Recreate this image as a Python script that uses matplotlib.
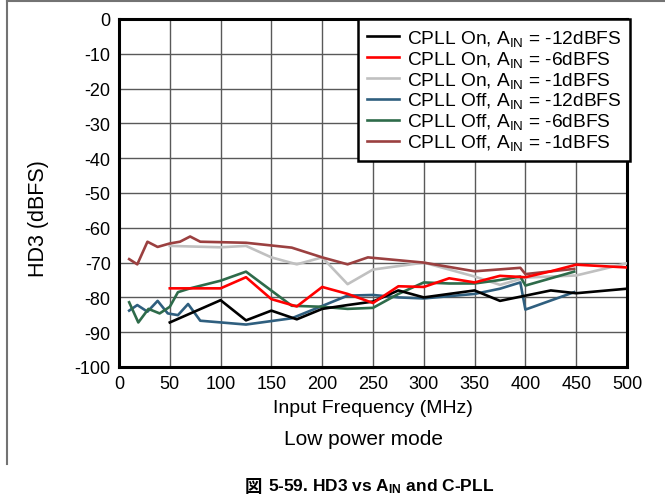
import matplotlib
matplotlib.use("Agg")
import matplotlib.pyplot as plt
from matplotlib.lines import Line2D

plt.rcParams['font.family'] = ['Liberation Sans', 'Noto Sans CJK JP', 'DejaVu Sans']
plt.rcParams['mathtext.fontset'] = 'custom'
plt.rcParams['mathtext.rm'] = 'Liberation Sans'
plt.rcParams['mathtext.it'] = 'Liberation Sans'
plt.rcParams['mathtext.bf'] = 'Liberation Sans:bold'
plt.rcParams['axes.unicode_minus'] = False

# data
on12_x = [50, 100, 125, 150, 175, 200, 225, 250, 275, 300, 350, 375, 400, 425, 450, 500]
on12_y = [-87.2, -80.8, -86.6, -83.8, -86.3, -83.3, -82.2, -81.2, -78, -80, -78, -81, -79.5, -78, -78.8, -77.5]

on6_x = [50, 75, 100, 125, 150, 175, 200, 225, 250, 275, 300, 325, 350, 375, 400, 425, 450, 500]
on6_y = [-77.4, -77.4, -77.4, -74.2, -80.5, -82.6, -77, -79, -81.6, -76.8, -77, -74.5, -75.7, -73.8, -74.2, -72.5, -70.6, -71.4]

on1_x = [50, 100, 125, 150, 175, 200, 225, 250, 300, 350, 375, 400, 450, 500]
on1_y = [-65.2, -65.6, -65.2, -68.5, -70.5, -68.5, -76.2, -72, -70, -74, -76.4, -74.3, -73.7, -70.2]

off12_x = [10, 18, 28, 38, 48, 58, 68, 80, 125, 170, 225, 250, 275, 300, 350, 375, 395, 400, 448]
off12_y = [-83.8, -82.2, -84.1, -81, -84.6, -85.1, -81.9, -86.7, -87.8, -86, -79.5, -79.3, -80, -80.3, -79, -77.5, -75.7, -83.5, -78.5]

off6_x = [10, 19, 29, 40, 50, 58, 70, 100, 125, 170, 200, 225, 250, 275, 300, 325, 350, 375, 395, 400, 448]
off6_y = [-81.4, -87.2, -83.3, -84.6, -82.7, -78.5, -77.4, -75.2, -72.6, -82.4, -82.7, -83.3, -83, -79, -75.7, -76, -76, -75, -74, -76.6, -72.6]

off1_x = [10, 18, 28, 38, 50, 60, 70, 80, 125, 170, 200, 225, 245, 300, 350, 395, 400, 448]
off1_y = [-69, -70.5, -64, -65.5, -64.5, -64, -62.5, -64, -64.3, -65.7, -68.5, -70.5, -68.5, -70, -72.5, -71.5, -73.3, -71.8]

labels = [r'CPLL On, A$_{\mathrm{IN}}$ = -12dBFS',
          r'CPLL On, A$_{\mathrm{IN}}$ = -6dBFS',
          r'CPLL On, A$_{\mathrm{IN}}$ = -1dBFS',
          r'CPLL Off, A$_{\mathrm{IN}}$ = -12dBFS',
          r'CPLL Off, A$_{\mathrm{IN}}$ = -6dBFS',
          r'CPLL Off, A$_{\mathrm{IN}}$ = -1dBFS']
colors = ['#000000', '#ff0000', '#c0c0c0', '#2f5f7f', '#2e6b4a', '#9b4040']

series = [(on12_x, on12_y), (on6_x, on6_y), (on1_x, on1_y),
          (off12_x, off12_y), (off6_x, off6_y), (off1_x, off1_y)]

fig = plt.figure(figsize=(6.65, 5.02), dpi=100)
ax = fig.add_axes([119 / 665, 1 - 368 / 502, 508 / 665, 348 / 502])

# draw order: keep red/black on top like the reference
order = [2, 5, 3, 4, 0, 1]
for i in order:
    ax.plot(series[i][0], series[i][1], color=colors[i], lw=1.9, zorder=3 + order.index(i))

ax.set_xlim(0, 500)
ax.set_ylim(-100, 0)
ax.set_xticks(range(0, 501, 50))
ax.set_yticks(range(-100, 1, 10))
ax.grid(True, color='0.35', lw=1)
ax.tick_params(labelsize=13, length=0, pad=6)
for s in ax.spines.values():
    s.set_linewidth(2.2)
ax.set_xlabel('Input Frequency (MHz)', fontsize=14, labelpad=5)
ax.set_ylabel('HD3 (dBFS)', fontsize=15.5)
ax.yaxis.set_label_coords(-0.138, 0.43)

handles = [Line2D([], [], color=c, lw=1.9) for c in colors]
leg = ax.legend(handles, labels, loc='upper right', fontsize=13.8, frameon=True,
                fancybox=False, edgecolor='black', framealpha=1,
                handlelength=1.7, handletextpad=0.4, labelspacing=0.05,
                borderaxespad=0, borderpad=0.45, bbox_to_anchor=(1.006, 1.0))
leg.get_frame().set_linewidth(1.8)
leg.set_zorder(20)

fig.text(363 / 665, 1 - 440 / 502, 'Low power mode', fontsize=15, ha='center', va='center')
fig.text(262 / 665, 1 - 487 / 502, '図', fontsize=12.5, fontweight='bold',
         family=['Noto Sans CJK JP'], ha='right', va='center')
fig.text(268 / 665, 1 - 487 / 502, r'5-59. HD3 vs A$_{\mathbf{IN}}$ and C-PLL',
         fontsize=12.5, fontweight='bold', ha='left', va='center')

# outer frame lines
fig.add_artist(Line2D([7 / 665, 7 / 665], [1 - 2 / 502, 1 - 465 / 502], color='0.45', lw=1.5))
fig.add_artist(Line2D([7 / 665, 1], [1 - 2 / 502, 1 - 2 / 502], color='0.45', lw=1.5))

fig.savefig('out.png', dpi=100)
